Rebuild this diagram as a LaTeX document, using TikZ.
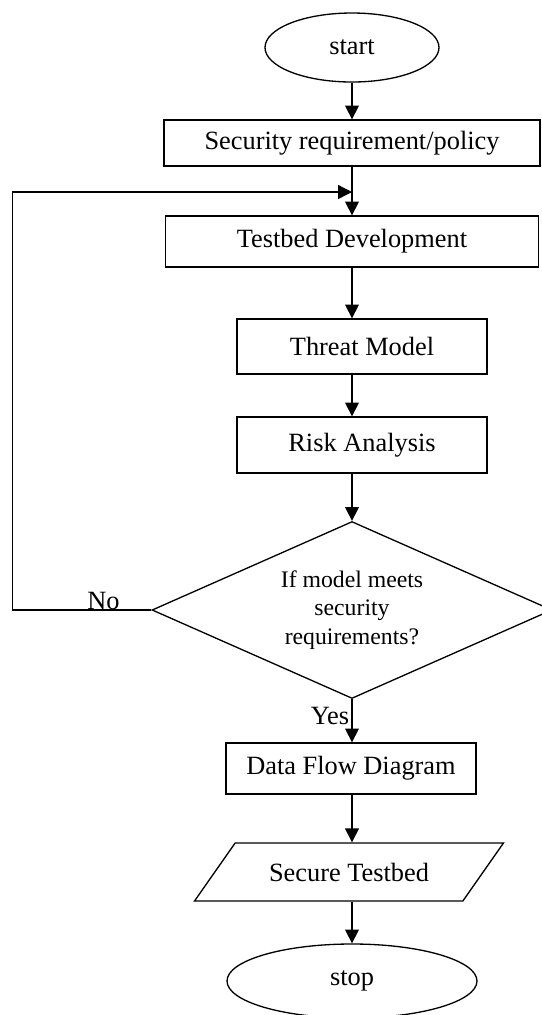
\documentclass[tikz,border=0pt]{standalone}
\usepackage{fontspec}
\setmainfont{Liberation Serif}
\usepackage{tikz}
\usetikzlibrary{shapes.geometric, arrows.meta}

\begin{document}
\begin{tikzpicture}[line width=0.6pt,
    every node/.style={font=\fontsize{12}{14}\selectfont},
    terminal/.style={draw, ellipse, inner sep=0pt},
    process/.style={draw, rectangle, inner sep=0pt},
    decision/.style={draw, diamond, aspect=2.26, inner sep=0pt, align=center,
        font=\fontsize{10.8}{12.9}\selectfont},
    io/.style={draw, trapezium, trapezium left angle=55, trapezium right angle=125,
        trapezium stretches body, inner xsep=0pt, inner ysep=9pt},
    flow/.style={-{Triangle[width=6.3pt, length=6.3pt]}}]
    \useasboundingbox (0,0) rectangle (8.672,-16.24);

    \node[terminal, minimum width=2.784cm, minimum height=1.104cm] (start) at (5.632,-0.76) {start};
    \node[process, minimum width=6.016cm, minimum height=0.736cm] (policy) at (5.632,-2.288) {Security requirement/policy};
    \node[process, minimum width=5.968cm, minimum height=0.816cm] (testbed) at (5.632,-3.864) {Testbed Development};
    \node[process, minimum width=4cm, minimum height=0.88cm] (threat) at (5.792,-5.544) {Threat Model};
    \node[process, minimum width=4cm, minimum height=0.896cm] (risk) at (5.792,-7.12) {Risk Analysis};
    \node[decision, minimum width=6.4cm, minimum height=2.832cm] (check) at (5.632,-9.76) {If model meets\\security\\requirements?};
    \node[process, minimum width=4cm, minimum height=0.816cm] (dfd) at (5.616,-12.296) {Data Flow Diagram};
    \node[io, minimum width=4.944cm] (result) at (5.584,-13.952) {Secure Testbed};
    \node[terminal, minimum width=4cm, minimum height=1.184cm] (stop) at (5.632,-15.696) {stop};

    \coordinate (merge) at (5.632,-3.072);
    \coordinate (corner) at (0.205,-3.072);

    \draw[flow] (start.south) -- (policy.north);
    \draw[flow] (policy.south) -- (testbed.north);
    \draw[flow] (testbed.south) -- (threat.north -| testbed.south);
    \draw[flow] (threat.south -| check.north) -- (risk.north -| check.north);
    \draw[flow] (risk.south -| check.north) -- (check.north);
    \draw[flow] (check.south) -- node[anchor=east, inner sep=1pt, pos=0.4] {Yes} (dfd.north -| check.south);
    \draw[flow] (dfd.south -| check.south) -- (result.north -| check.south);
    \draw[flow] (result.south -| check.south) -- (stop.north);
    \draw[flow] (check.west) -- node[above, inner sep=0pt, pos=0.345] {No} (check.west -| corner) -- (corner) -- (merge);
\end{tikzpicture}
\end{document}
